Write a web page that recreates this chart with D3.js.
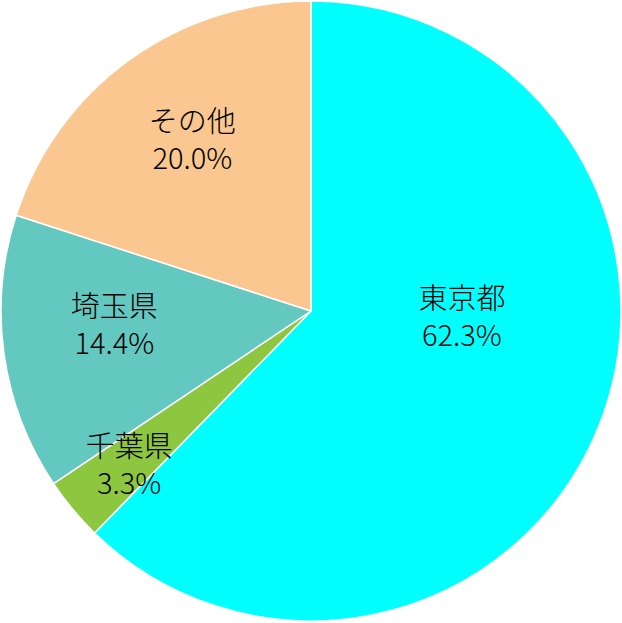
<!DOCTYPE html>
<html>
<head>
<meta charset="utf-8">
<script src="https://cdn.jsdelivr.net/npm/d3@7"></script>
<style>
  html, body { margin: 0; padding: 0; background: #fff; }
</style>
</head>
<body>
<div id="chart"></div>
<script>
  // data
  const prefectures = ['東京都', '千葉県', '埼玉県', 'その他'];
  const shares = [62.3, 3.3, 14.4, 20.0];
  const sliceColors = ['#00ffff', '#8dc63f', '#63c8c0', '#f9c78f'];

  // label placement around the centre: angle (deg, clockwise from top) and distance
  const labelAngles = [91.5, 230.1, 266.5, 325.6];
  const labelDistances = [151, 237, 197, 210];

  const width = 622, height = 623;
  const cx = 311, cy = 311, radius = 310;

  const svg = d3.select('#chart')
    .append('svg')
    .attr('width', width)
    .attr('height', height);

  const g = svg.append('g')
    .attr('transform', `translate(${cx},${cy})`);

  const slices = prefectures.map((name, i) => ({ name, value: shares[i], i }));

  const pie = d3.pie().sort(null).value((d) => d.value);
  const arc = d3.arc().innerRadius(0).outerRadius(radius);

  const arcs = pie(slices);

  g.selectAll('path')
    .data(arcs)
    .join('path')
    .attr('d', arc)
    .attr('fill', (d) => sliceColors[d.data.i])
    .attr('stroke', '#fff')
    .attr('stroke-width', 1.5)
    .attr('stroke-linejoin', 'round');

  const labels = g.selectAll('text.label')
    .data(arcs)
    .join('text')
    .attr('class', 'label')
    .attr('text-anchor', 'middle')
    .style('font-family', '"Noto Sans CJK JP", "Noto Sans", sans-serif')
    .style('font-size', '29px')
    .style('font-weight', 300)
    .style('fill', '#000')
    .attr('transform', (d) => {
      const a = labelAngles[d.data.i] * Math.PI / 180;
      const r = labelDistances[d.data.i];
      return `translate(${r * Math.sin(a)},${-r * Math.cos(a)})`;
    });

  labels.append('tspan')
    .attr('x', 0)
    .attr('y', -6)
    .text((d) => d.data.name);

  labels.append('tspan')
    .attr('x', 0)
    .attr('y', 31)
    .text((d) => d.data.value.toFixed(1) + '%');
</script>
</body>
</html>
